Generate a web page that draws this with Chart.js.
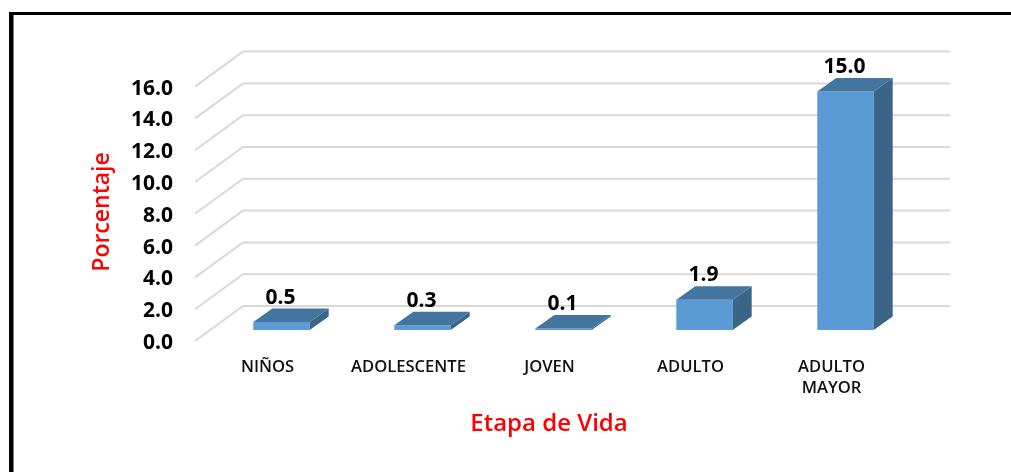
<!DOCTYPE html>
<html>
<head>
<meta charset="utf-8">
<script src="https://cdn.jsdelivr.net/npm/chart.js@4"></script>
<style>
  html, body { margin: 0; padding: 0; background: #fff; overflow: hidden; }
  canvas { display: block; filter: blur(0.4px); }
</style>
</head>
<body>
<canvas id="myChart" width="1011" height="472"></canvas>
<script>
const categorias = ['NIÑOS', 'ADOLESCENTE', 'JOVEN', 'ADULTO', ['ADULTO', 'MAYOR']];
const porcentajes = [0.5, 0.3, 0.1, 1.9, 15.0];
const tituloY = 'Porcentaje';
const tituloX = 'Etapa de Vida';

const fuente = '"Open Sans", sans-serif';

// caras laterales y superior de las barras, piso y paredes (falso 3D)
const efecto3d = {
  id: 'efecto3d',
  beforeDraw(chart) {
    const c = chart.ctx;
    c.save();
    c.fillStyle = '#fff';
    c.fillRect(0, 0, chart.width, chart.height);
    c.fillStyle = '#000';
    c.fillRect(9, 12, 4.5, 460);
    c.fillRect(9, 12, 1002, 3);
    c.restore();
  },
  beforeDatasetsDraw(chart) {
    const c = chart.ctx;
    const y = chart.scales.y;
    c.save();
    c.strokeStyle = '#d9d9d9';
    c.lineWidth = 2;
    y.ticks.forEach(t => {
      const py = y.getPixelForValue(t.value);
      c.beginPath();
      c.moveTo(195, py + 11);
      c.lineTo(243, py - 24);
      c.lineTo(950, py - 24);
      c.stroke();
    });
    c.restore();
  },
  afterDatasetsDraw(chart) {
    const c = chart.ctx;
    c.save();
    chart.getDatasetMeta(0).data.forEach((b, i) => {
      const izq = b.x - b.width / 2, der = b.x + b.width / 2;
      const dx = 19, dy = 13.5;
      // lado
      c.fillStyle = '#3b6587';
      c.beginPath();
      c.moveTo(der, b.y);
      c.lineTo(der + dx, b.y - dy);
      c.lineTo(der + dx, b.base - dy);
      c.lineTo(der, b.base);
      c.closePath();
      c.fill();
      // tapa
      c.fillStyle = '#44759f';
      c.beginPath();
      c.moveTo(izq, b.y);
      c.lineTo(izq + dx, b.y - dy);
      c.lineTo(der + dx, b.y - dy);
      c.lineTo(der, b.y);
      c.closePath();
      c.fill();
      // etiqueta de valor
      c.fillStyle = '#000';
      c.font = '700 21px ' + fuente;
      c.textAlign = 'center';
      c.textBaseline = 'middle';
      c.fillText(porcentajes[i].toFixed(1), b.x - 1, b.y - dy - 11);
    });
    // titulos de ejes
    c.fillStyle = '#ff0000';
    c.font = '600 24px ' + fuente;
    c.textAlign = 'center';
    c.textBaseline = 'middle';
    c.fillText(tituloX, 549, 424);
    c.translate(102, 212);
    c.rotate(-Math.PI / 2);
    c.font = '600 23px ' + fuente;
    c.fillText(tituloY, 0, 0);
    c.restore();
  }
};

var ctx = document.getElementById('myChart').getContext('2d');
var myChart = new Chart(ctx, {
  type: 'bar',
  data: {
    labels: categorias,
    datasets: [{
      data: porcentajes,
      backgroundColor: '#5b9bd5',
      barPercentage: 0.4,
      categoryPercentage: 1
    }]
  },
  options: {
    responsive: false,
    animation: false,
    layout: { padding: { top: 75.6, right: 95, bottom: 0, left: 0 } },
    plugins: { legend: { display: false }, tooltip: { enabled: false } },
    scales: {
      x: {
        afterFit(s) { s.height = 142; },
        grid: { display: false },
        border: { display: false },
        ticks: {
          autoSkip: false,
          maxRotation: 0,
          padding: 18,
          labelOffset: -14,
          color: '#111',
          font: { family: fuente, size: 16.6, weight: '600', lineHeight: 1.3 }
        }
      },
      y: {
        min: 0,
        max: 16,
        afterFit(s) { s.width = 211; },
        grid: { display: false },
        border: { display: false },
        ticks: {
          stepSize: 2,
          padding: 30,
          labelOffset: 13,
          color: '#000',
          font: { family: fuente, size: 21, weight: '700' },
          callback: v => v.toFixed(1)
        }
      }
    }
  },
  plugins: [efecto3d]
});
</script>
</body>
</html>
